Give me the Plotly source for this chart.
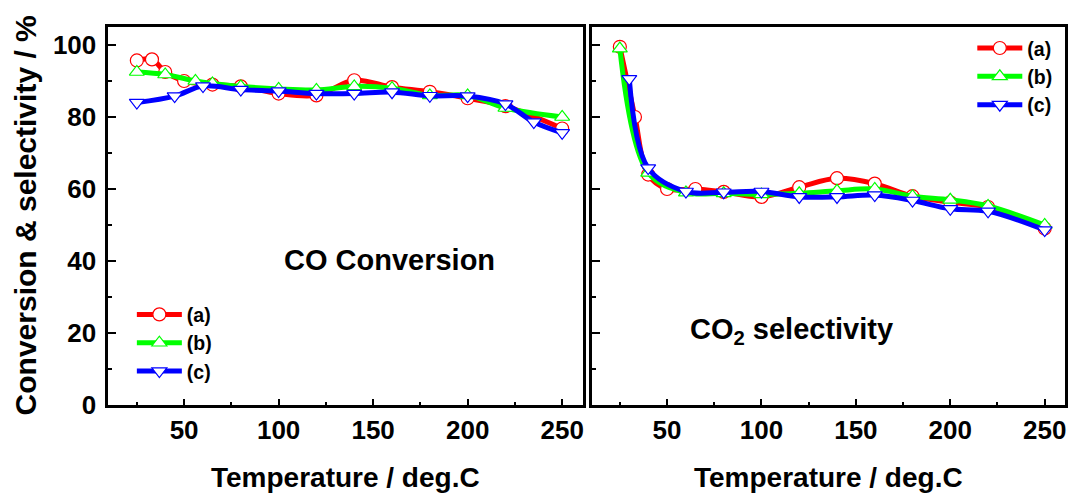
import plotly.graph_objects as go

# ---- data: CO conversion (left panel) ----
conv_a_x = [25, 33, 40, 50, 65, 80, 100, 120, 140, 160, 180, 200, 220, 250]
conv_a_y = [95.7, 96, 92.5, 90, 89, 88.5, 86.5, 86, 90.2, 88.3, 87, 85.2, 83, 76.8]
conv_b_x = [25, 40, 56, 65, 80, 100, 120, 140, 160, 180, 200, 220, 250]
conv_b_y = [92.5, 91.8, 90, 89.3, 88.5, 87.8, 87.5, 88.5, 88, 86, 86, 82.5, 80]
conv_c_x = [25, 45, 60, 80, 100, 120, 140, 160, 180, 200, 220, 235, 250]
conv_c_y = [84, 85.8, 88.6, 87.6, 87.2, 86.5, 86.5, 86.9, 85.9, 85.8, 83.6, 78.6, 75.6]

# ---- data: CO2 selectivity (right panel) ----
sel_a_x = [25, 33, 40, 50, 65, 80, 100, 120, 140, 160, 180, 200, 220, 250]
sel_a_y = [99.5, 80, 64, 60, 60, 59.2, 57.8, 60.5, 63, 61.5, 58, 56.3, 55, 49]
sel_b_x = [25, 40, 60, 80, 100, 120, 140, 160, 180, 200, 220, 250]
sel_b_y = [99, 64.5, 59, 58.8, 58.5, 58.8, 59.5, 60, 58, 57, 55.3, 50]
sel_c_x = [30, 40, 60, 80, 100, 120, 140, 160, 180, 200, 220, 250]
sel_c_y = [90.6, 65.8, 59.3, 59.1, 59.3, 57.8, 57.8, 58.3, 56.8, 54.5, 53.8, 48.6]

series_names = ["(a)", "(b)", "(c)"]
colors = ["#FF0000", "#00FF00", "#0000FF"]
symbols = ["circle", "triangle-up", "triangle-down"]
msizes = [13, 13, 13]

FONT = "Arial, Liberation Sans, sans-serif"

fig = go.Figure()

left = [(conv_a_x, conv_a_y), (conv_b_x, conv_b_y), (conv_c_x, conv_c_y)]
right = [(sel_a_x, sel_a_y), (sel_b_x, sel_b_y), (sel_c_x, sel_c_y)]

for i, (xs, ys) in enumerate(left):
    fig.add_trace(go.Scatter(
        x=xs, y=ys, name=series_names[i], xaxis="x", yaxis="y", legend="legend",
        mode="lines+markers",
        line=dict(color=colors[i], width=5, shape="spline", smoothing=1),
        marker=dict(symbol=symbols[i], size=msizes[i], color="white",
                    line=dict(color=colors[i], width=1.2)),
    ))
for i, (xs, ys) in enumerate(right):
    fig.add_trace(go.Scatter(
        x=xs, y=ys, name=series_names[i], xaxis="x2", yaxis="y2", legend="legend2",
        mode="lines+markers",
        line=dict(color=colors[i], width=5, shape="spline", smoothing=1),
        marker=dict(symbol=symbols[i], size=msizes[i], color="white",
                    line=dict(color=colors[i], width=1.2)),
    ))

xaxis_common = dict(
    range=[10, 261], tickmode="array", tickvals=[50, 100, 150, 200, 250],
    ticks="inside", ticklen=6, tickwidth=2, tickcolor="black",
    minor=dict(tickmode="array", tickvals=[25, 75, 125, 175, 225], ticks="inside",
               ticklen=3, tickwidth=2, tickcolor="black"),
    showline=True, linecolor="black", linewidth=3, mirror=True,
    showgrid=False, zeroline=False, automargin=False,
    tickfont=dict(family=FONT, size=26, color="black", weight="bold"),
)
yaxis_common = dict(
    range=[0, 105], tickmode="array", tickvals=[0, 20, 40, 60, 80, 100],
    ticks="inside", ticklen=8, tickwidth=2, tickcolor="black",
    minor=dict(tickmode="array", tickvals=[10, 30, 50, 70, 90], ticks="inside",
               ticklen=4, tickwidth=2, tickcolor="black"),
    showline=True, linecolor="black", linewidth=3, mirror=True,
    showgrid=False, zeroline=False, automargin=False,
    tickfont=dict(family=FONT, size=26, color="black", weight="bold"),
)

fig.update_layout(
    template="none",
    width=1072, height=497,
    margin=dict(l=0, r=0, t=0, b=0, pad=0, autoexpand=False),
    paper_bgcolor="white", plot_bgcolor="white",
    xaxis=dict(domain=[0.1012, 0.5438], anchor="y", **xaxis_common),
    yaxis=dict(domain=[0.1851, 0.9457], anchor="x", ticklabelstandoff=4, **yaxis_common),
    xaxis2=dict(domain=[0.5518, 0.9939], anchor="y2", **xaxis_common),
    yaxis2=dict(domain=[0.1851, 0.9457], anchor="x2", showticklabels=False, **yaxis_common),
    legend=dict(x=0.123, y=0.406, xanchor="left", yanchor="top",
                bgcolor="rgba(0,0,0,0)", itemwidth=45, tracegroupgap=0,
                font=dict(family=FONT, size=19.5, color="black", weight="bold")),
    legend2=dict(x=0.907, y=0.942, xanchor="left", yanchor="top",
                 bgcolor="rgba(0,0,0,0)", itemwidth=45, tracegroupgap=0,
                 font=dict(family=FONT, size=19.5, color="black", weight="bold")),
    annotations=[
        dict(text="<b>CO Conversion</b>", x=0.3629, y=0.4769, xref="paper", yref="paper",
             xanchor="center", yanchor="middle", showarrow=False,
             font=dict(family=FONT, size=29, color="black")),
        dict(text="<b>CO<sub>2</sub> selectivity</b>", x=0.7383, y=0.335, xref="paper", yref="paper",
             xanchor="center", yanchor="middle", showarrow=False,
             font=dict(family=FONT, size=29, color="black")),
        dict(text="<b>Temperature / deg.C</b>", x=0.3227, y=0.040, xref="paper", yref="paper",
             xanchor="center", yanchor="middle", showarrow=False,
             font=dict(family=FONT, size=28, color="black")),
        dict(text="<b>Temperature / deg.C</b>", x=0.7724, y=0.040, xref="paper", yref="paper",
             xanchor="center", yanchor="middle", showarrow=False,
             font=dict(family=FONT, size=28, color="black")),
        dict(text="<b>Conversion &amp; selectivity / %</b>", x=0.0235, y=0.567, xref="paper", yref="paper",
             xanchor="center", yanchor="middle", showarrow=False, textangle=-90,
             font=dict(family=FONT, size=30, color="black")),
    ],
)

fig.write_html(
    "out.html",
    config={"displayModeBar": False},
    post_script="document.body.style.margin='0';document.body.style.overflow='hidden';",
)
